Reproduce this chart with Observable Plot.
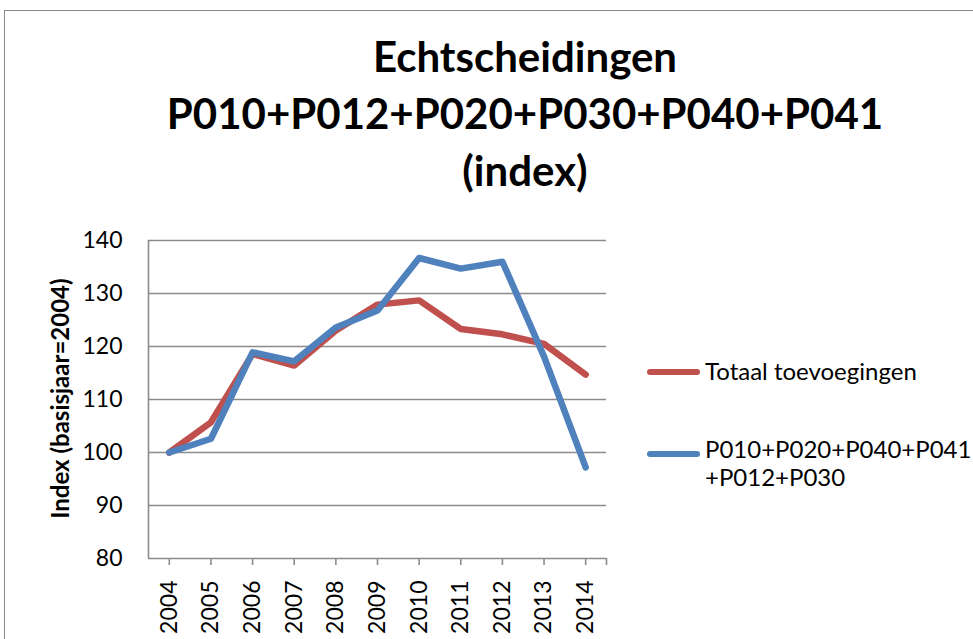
<!DOCTYPE html>
<html>
<head>
<meta charset="utf-8">
<script src="https://cdn.jsdelivr.net/npm/d3@7"></script>
<script src="https://cdn.jsdelivr.net/npm/@observablehq/plot@0.6"></script>
<style>
  html, body { margin: 0; padding: 0; background: #fff; overflow: hidden; }
  #wrap { position: relative; width: 973px; height: 639px; overflow: hidden; font-family: Lato, "Open Sans", sans-serif; }
  #border { position: absolute; left: 4px; top: 10px; width: 1000px; height: 700px; border: 1.5px solid #8a8a8a; box-sizing: border-box; }
  #title { position: absolute; left: 0; top: 27.5px; width: 1050px; text-align: center; font-weight: bold; font-size: 42px; line-height: 57px; color: #000; }
  #chart { position: absolute; left: 0; top: 215px; }
  #legend { position: absolute; left: 647px; top: 0; font-size: 24px; color: #000; }
  .item { position: absolute; left: 0; display: flex; align-items: flex-start; white-space: nowrap; }
  .swatch { width: 53px; height: 6px; border-radius: 3px; margin-right: 5px; flex: none; }
  .lbl { line-height: 28.4px; }
</style>
</head>
<body>
<div id="wrap">
  <div id="border"></div>
  <div id="title"></div>
  <div id="chart"></div>
  <div id="legend"></div>
</div>
<script>
const titleLines = ["Echtscheidingen", "P010+P012+P020+P030+P040+P041", "(index)"];
const years = [2004, 2005, 2006, 2007, 2008, 2009, 2010, 2011, 2012, 2013, 2014];
const seriesNames = ["Totaal toevoegingen", "P010+P020+P040+P041\n+P012+P030"];
const totaal = [100, 105.7, 118.6, 116.4, 123.0, 127.9, 128.7, 123.3, 122.3, 120.5, 114.7];
const pgroep = [100, 102.6, 118.9, 117.2, 123.6, 126.8, 136.7, 134.7, 136.0, 118.1, 97.2];
const yTicks = [80, 90, 100, 110, 120, 130, 140];
const yLabel = "Index (basisjaar=2004)";
const colors = ["#C0504D", "#4F81BD"];

document.getElementById("title").innerHTML = titleLines.map(s => `<div>${s}</div>`).join("");

const rows = [];
years.forEach((yr, i) => {
  rows.push({year: yr, value: totaal[i], series: seriesNames[0]});
  rows.push({year: yr, value: pgroep[i], series: seriesNames[1]});
});

const xTickVals = years.concat([years[years.length - 1] + 0.5]);

const plot = Plot.plot({
  width: 973,
  height: 430,
  marginLeft: 148,
  marginRight: 367,
  marginTop: 25,
  marginBottom: 87,
  style: { fontFamily: "Lato, 'Open Sans', sans-serif", background: "transparent", overflow: "visible" },
  x: { type: "linear", domain: [years[0] - 0.5, years[years.length - 1] + 0.5] },
  y: { domain: [80, 140] },
  color: { domain: seriesNames, range: colors },
  marks: [
    Plot.gridY(yTicks.filter(t => t > 80), { stroke: "#8c8c8c", strokeOpacity: 1, strokeWidth: 1.6 }),
    Plot.ruleY([80], { stroke: "#8c8c8c", strokeWidth: 1.6 }),
    Plot.ruleX([years[0] - 0.5], { stroke: "#8c8c8c", strokeWidth: 1.6 }),
    Plot.axisY(yTicks, { tickSize: 0, tickPadding: 26, fontSize: 23, fill: "#000", label: null }),
    Plot.axisX(xTickVals, {
      tickSize: 7, stroke: "#8c8c8c", strokeWidth: 1.6, tickPadding: 15, tickRotate: -90, fontSize: 23, fill: "#000",
      tickFormat: d => Number.isInteger(d) ? String(d) : "", label: null
    }),
    Plot.line(rows, { x: "year", y: "value", stroke: "series", z: "series", strokeWidth: 6.5, strokeLinecap: "round", strokeLinejoin: "round" }),
    Plot.text([yLabel], { frameAnchor: "left", textAnchor: "middle", dx: -87, dy: -1, rotate: -90, fontSize: 24, fontWeight: "bold", fill: "#000" })
  ]
});
document.getElementById("chart").appendChild(plot);

const legend = document.getElementById("legend");
const legendTops = [357, 435];
const swatchOffsets = [12, 15.5];
seriesNames.forEach((name, i) => {
  const item = document.createElement("div");
  item.className = "item";
  item.style.top = legendTops[i] + "px";
  item.innerHTML = `<div class="swatch" style="background:${colors[i]};margin-top:${swatchOffsets[i]}px"></div><div class="lbl">${name.replace("\n", "<br>")}</div>`;
  legend.appendChild(item);
});
</script>
</body>
</html>
